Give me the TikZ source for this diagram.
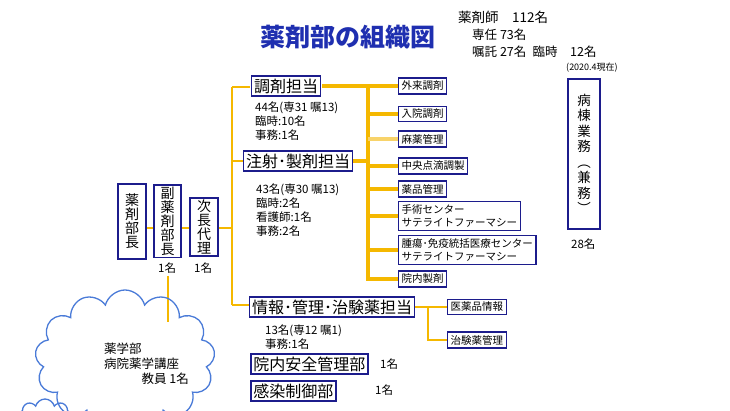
\documentclass[tikz,border=0pt]{standalone}
\usepackage{fontspec}
\setmainfont{Noto Sans CJK JP}
\usetikzlibrary{shapes.symbols}
\definecolor{ylw}{HTML}{F5B800}
\definecolor{lylw}{HTML}{F8D36A}
\definecolor{navy}{HTML}{1C1C8C}
\definecolor{ttl}{HTML}{1F2FB0}
\definecolor{cld}{HTML}{4A7BD8}
\tikzset{
 big/.style={draw=navy,line width=1.6pt,inner sep=2.5pt,font=\fontsize{16}{18}\selectfont,fill=white},
 sm/.style={draw=navy,line width=1.3pt,inner sep=3pt,anchor=west,align=left,font=\fontsize{10.5}{13.5}\selectfont,fill=white},
 vert/.style={draw=navy,line width=1.6pt,align=center,inner sep=2pt,font=\fontsize{14}{14}\selectfont,anchor=north},
 txt/.style={anchor=west,align=left,inner sep=0pt,font=\fontsize{11.5}{14}\selectfont},
 yl/.style={ylw,line width=1.3pt},
 yt/.style={ylw,line width=3.5pt}
}
\begin{document}
\begin{tikzpicture}[x=1pt,y=-1pt]
\useasboundingbox[fill=white] (0,0) rectangle (730,411);
\node[text=ttl,font=\fontsize{25}{27}\selectfont\bfseries] (title) at (348,37) {薬剤部の組織図};
\node[txt,font=\fontsize{13.5}{15}\selectfont] (t1) at (458,17) {薬剤師\quad 112名};
\node[txt,font=\fontsize{12.5}{15}\selectfont] (t2) at (472,35) {専任 73名};
\node[txt,font=\fontsize{12.5}{15}\selectfont] (t3) at (472,52) {嘱託 27名\enspace 臨時\quad 12名};
\node[txt,font=\fontsize{9}{10}\selectfont] (t4) at (566,68) {(2020.4現在)};
% yellow lines
\draw[yl] (232,87) -- (232,305);
\draw[yl] (146,228) -- (154,228);
\draw[yl] (181,228) -- (190,228);
\draw[yl] (218,228) -- (232,228);
\draw[yl] (232,87) -- (250,87);
\draw[yl] (232,161) -- (243,161);
\draw[yl] (232,305) -- (250,305);
\draw[yl] (168,276) -- (168,322);
\draw[yt] (322,86) -- (398,86);
\draw[yt] (353,161) -- (368,161);
\draw[yt,line cap=round] (368,86) -- (368,279) -- (398,279);
\foreach \y in {114,166,189,216,250} \draw[yt] (368,\y) -- (398,\y);
\draw[lylw,line width=3.5pt] (368,139) -- (398,139);
\draw[yl] (414,307) -- (428,307) -- (428,340) -- (447,340);
\draw[yl] (428,307) -- (447,307);
% left vertical boxes
\node[vert,minimum height=75pt,minimum width=28pt] (bucho) at (132,183) {薬\\剤\\部\\長};
\node[vert,minimum height=71pt,minimum width=27pt] (fuku) at (167.5,184) {副\\薬\\剤\\部\\長};
\node[vert,minimum height=58pt,minimum width=28pt] (jicho) at (204,197) {次\\長\\代\\理};
\node[txt] (f1) at (158,268) {1名};
\node[txt] (j1) at (194,268) {1名};
% main boxes
\node[big] (chozai) at (286,86) {調剤担当};
\node[big] (chusha) at (298,161) {注射･製剤担当};
\node[big] (joho) at (332,307) {情報･管理･治験薬担当};
\node[big,anchor=west] (anzen) at (250,364) {院内安全管理部};
\node[big,anchor=west] (kansen) at (250,391) {感染制御部};
\node[txt] (a1) at (380,364) {1名};
\node[txt] (k1) at (375,390) {1名};
\node[txt] (c1) at (255,121) {44名(専31 嘱13)\\臨時:10名\\事務:1名};
\node[txt] (c2) at (256,210) {43名(専30 嘱13)\\臨時:2名\\看護師:1名\\事務:2名};
\node[txt] (c3) at (265,337) {13名(専12 嘱1)\\事務:1名};
% small boxes
\node[sm] (s1) at (398,86) {外来調剤};
\node[sm] (s2) at (398,114) {入院調剤};
\node[sm] (s3) at (398,139) {麻薬管理};
\node[sm] (s4) at (398,166) {中央点滴調製};
\node[sm] (s5) at (398,189) {薬品管理};
\node[sm] (s6) at (398,216) {手術センター\\サテライトファーマシー};
\node[sm] (s7) at (398,250) {腫瘍･免疫統括医療センター\\サテライトファーマシー};
\node[sm] (s8) at (398,279) {院内製剤};
\node[sm] (s9) at (447,307) {医薬品情報};
\node[sm] (s10) at (447,340) {治験薬管理};
% ward
\node[vert,minimum height=150pt,minimum width=32pt,font=\fontsize{13.5}{15.5}\selectfont] (byoto) at (584,78) {病\\棟\\業\\務\\︵\\兼\\務\\︶};
\node[txt] (b1) at (571,244) {28名};
% cloud
\node[cloud,draw=cld,line width=1.3pt,cloud puffs=13,minimum width=180pt,minimum height=140pt,aspect=1.2] (cloud) at (125,360) {};
\node[cloud,draw=cld,line width=1.3pt,cloud puffs=8,minimum width=50pt,minimum height=30pt] (cloud2) at (45,414) {};
\node[txt,font=\fontsize{12.5}{15}\selectfont] (ct) at (104,364) {薬学部\\病院薬学講座\\\hphantom{病院薬}教員 1名};
\end{tikzpicture}
\end{document}
